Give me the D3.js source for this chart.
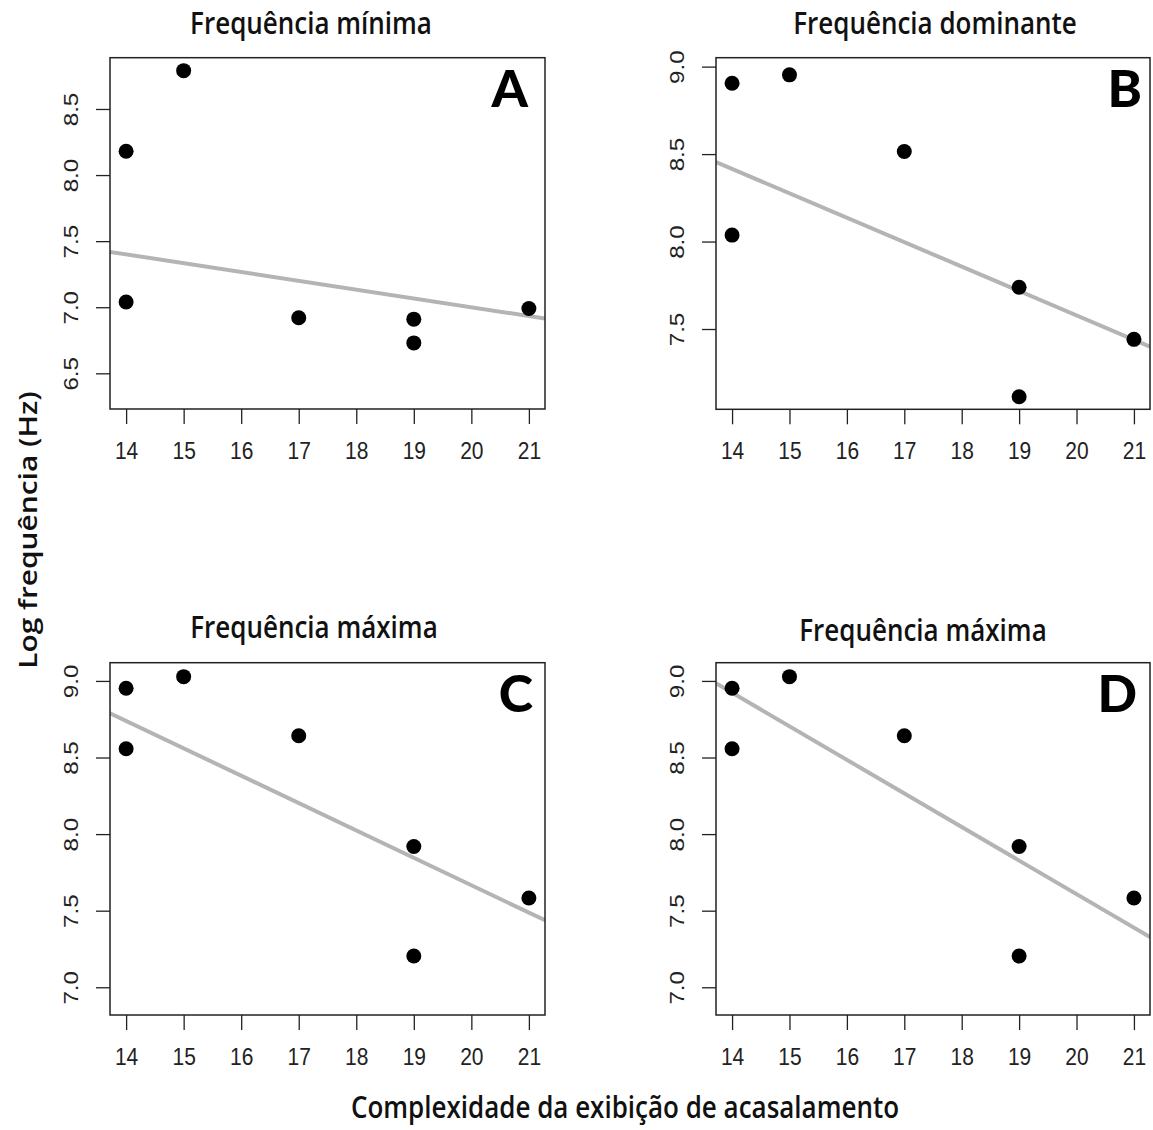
<!DOCTYPE html>
<html>
<head>
<meta charset="utf-8">
<script src="https://cdn.jsdelivr.net/npm/d3@7"></script>
<style>
  body { margin: 0; background: #fff; }
</style>
</head>
<body>
<div id="chart"></div>
<script>
// x values shared by every panel
const complexity = [14, 14, 15, 17, 19, 19, 21];
const xTicks = [14, 15, 16, 17, 18, 19, 20, 21];

// log frequency per panel, same order as complexity
const freqMin = [8.18, 7.04, 8.79, 6.92, 6.91, 6.73, 6.99];
const freqDom = [8.905, 8.037, 8.953, 8.515, 7.739, 7.113, 7.441];
const freqMaxC = [8.952, 8.557, 9.028, 8.642, 7.919, 7.204, 7.583];
const freqMaxD = [8.952, 8.557, 9.028, 8.642, 7.919, 7.204, 7.583];

// fitted lines: [intercept, slope]
const fitA = [8.334, -0.0667];
const fitB = [10.368, -0.1395];
const fitC = [11.242, -0.1788];
const fitD = [11.992, -0.2192];

const yTicksA = [6.5, 7.0, 7.5, 8.0, 8.5];
const yTicksB = [7.5, 8.0, 8.5, 9.0];
const yTicksCD = [7.0, 7.5, 8.0, 8.5, 9.0];

const titles = ['Frequência mínima', 'Frequência dominante', 'Frequência máxima', 'Frequência máxima'];
const letters = ['A', 'B', 'C', 'D'];

const W = 1153, H = 1130;
const xDomain = [13.72, 21.28];
const stretch = 'scale(1,1.15)'; // the source image is a bit taller than wide

// layout of the four boxes
const panels = [
  { x: 110, y: 57.7, w: 435, h: 351.3, ydom: [6.23, 8.888], yticks: yTicksA, vals: freqMin, fit: fitA, tx: 311, ty: 34, ldx: 17 },
  { x: 716, y: 57.7, w: 434, h: 351.6, ydom: [7.041, 9.051], yticks: yTicksB, vals: freqDom, fit: fitB, tx: 935, ty: 34, ldx: 8 },
  { x: 110, y: 662.7, w: 435, h: 352.3, ydom: [6.819, 9.119], yticks: yTicksCD, vals: freqMaxC, fit: fitC, tx: 314, ty: 638, ldx: 12 },
  { x: 716, y: 662.7, w: 434, h: 352.3, ydom: [6.819, 9.119], yticks: yTicksCD, vals: freqMaxD, fit: fitD, tx: 923, ty: 641, ldx: 13 },
];

const svg = d3.select('#chart')
  .append('svg')
  .attr('width', W)
  .attr('height', H)
  .style('font-family', '"Liberation Sans", Arial, sans-serif');

panels.forEach((p, i) => {
  const x = d3.scaleLinear().domain(xDomain).range([0, p.w]);
  const y = d3.scaleLinear().domain(p.ydom).range([p.h, 0]);

  const g = svg.append('g').attr('transform', `translate(${p.x},${p.y})`);

  g.append('clipPath').attr('id', `clip${i}`)
    .append('rect').attr('width', p.w).attr('height', p.h);

  // x axis
  const xAxis = g.append('g')
    .attr('transform', `translate(0,${p.h})`)
    .call(d3.axisBottom(x).tickValues(xTicks).tickSize(15).tickFormat(d3.format('d')));
  xAxis.select('.domain').remove();
  xAxis.selectAll('line').attr('stroke', '#222').attr('stroke-width', 1.3);
  xAxis.selectAll('text')
    .attr('y', 0)
    .attr('transform', `translate(0,33) ${stretch}`)
    .attr('fill', '#222')
    .style('font-size', '21px')
    .style('font-family', '"Liberation Sans", Arial, sans-serif');

  // y axis with rotated labels
  const yAxis = g.append('g')
    .call(d3.axisLeft(y).tickValues(p.yticks).tickSize(14).tickFormat(d3.format('.1f')));
  yAxis.select('.domain').remove();
  yAxis.selectAll('line').attr('stroke', '#222').attr('stroke-width', 1.3);
  yAxis.selectAll('text')
    .attr('fill', '#222')
    .attr('x', null)
    .attr('transform', `translate(-34,0) ${stretch} rotate(-90)`)
    .attr('text-anchor', 'middle')
    .attr('dy', '0.1em')
    .style('font-size', '21px')
    .style('font-family', '"Liberation Sans", Arial, sans-serif');

  // fitted line
  g.append('line')
    .attr('clip-path', `url(#clip${i})`)
    .attr('x1', x(xDomain[0]))
    .attr('x2', x(xDomain[1]))
    .attr('y1', y(p.fit[0] + p.fit[1] * xDomain[0]))
    .attr('y2', y(p.fit[0] + p.fit[1] * xDomain[1]))
    .attr('stroke', '#b4b4b4')
    .attr('stroke-width', 4);

  // points
  g.selectAll('circle')
    .data(p.vals)
    .enter()
    .append('circle')
    .attr('cx', (d, j) => x(complexity[j]))
    .attr('cy', (d) => y(d))
    .attr('r', 7.5)
    .attr('fill', '#000');

  // box
  g.append('rect')
    .attr('width', p.w)
    .attr('height', p.h)
    .attr('fill', 'none')
    .attr('stroke', '#222')
    .attr('stroke-width', 1.5);

  // panel letter
  g.append('text')
    .attr('x', p.w - p.ldx)
    .attr('y', 49)
    .attr('text-anchor', 'end')
    .style('font-family', 'Lato, "Open Sans", sans-serif')
    .style('font-weight', 900)
    .style('font-size', '52px')
    .text(letters[i]);

  // title
  svg.append('text')
    .attr('transform', `translate(${p.tx},${p.ty}) ${stretch}`)
    .attr('text-anchor', 'middle')
    .style('font-family', '"Open Sans", sans-serif')
    .style('font-weight', 600)
    .style('font-size', '26px')
    .attr('fill', '#111')
    .text(titles[i]);
});

// shared axis titles
svg.append('text')
  .attr('transform', `translate(37,530) ${stretch} rotate(-90)`)
  .attr('text-anchor', 'middle')
  .style('font-family', '"Open Sans", sans-serif')
  .style('font-weight', 600)
  .style('font-size', '26px')
  .attr('fill', '#111')
  .text('Log frequência (Hz)');

svg.append('text')
  .attr('transform', `translate(625,1118) ${stretch}`)
  .attr('text-anchor', 'middle')
  .style('font-family', '"Open Sans", sans-serif')
  .style('font-weight', 600)
  .style('font-size', '26px')
  .attr('fill', '#111')
  .text('Complexidade da exibição de acasalamento');
</script>
</body>
</html>
